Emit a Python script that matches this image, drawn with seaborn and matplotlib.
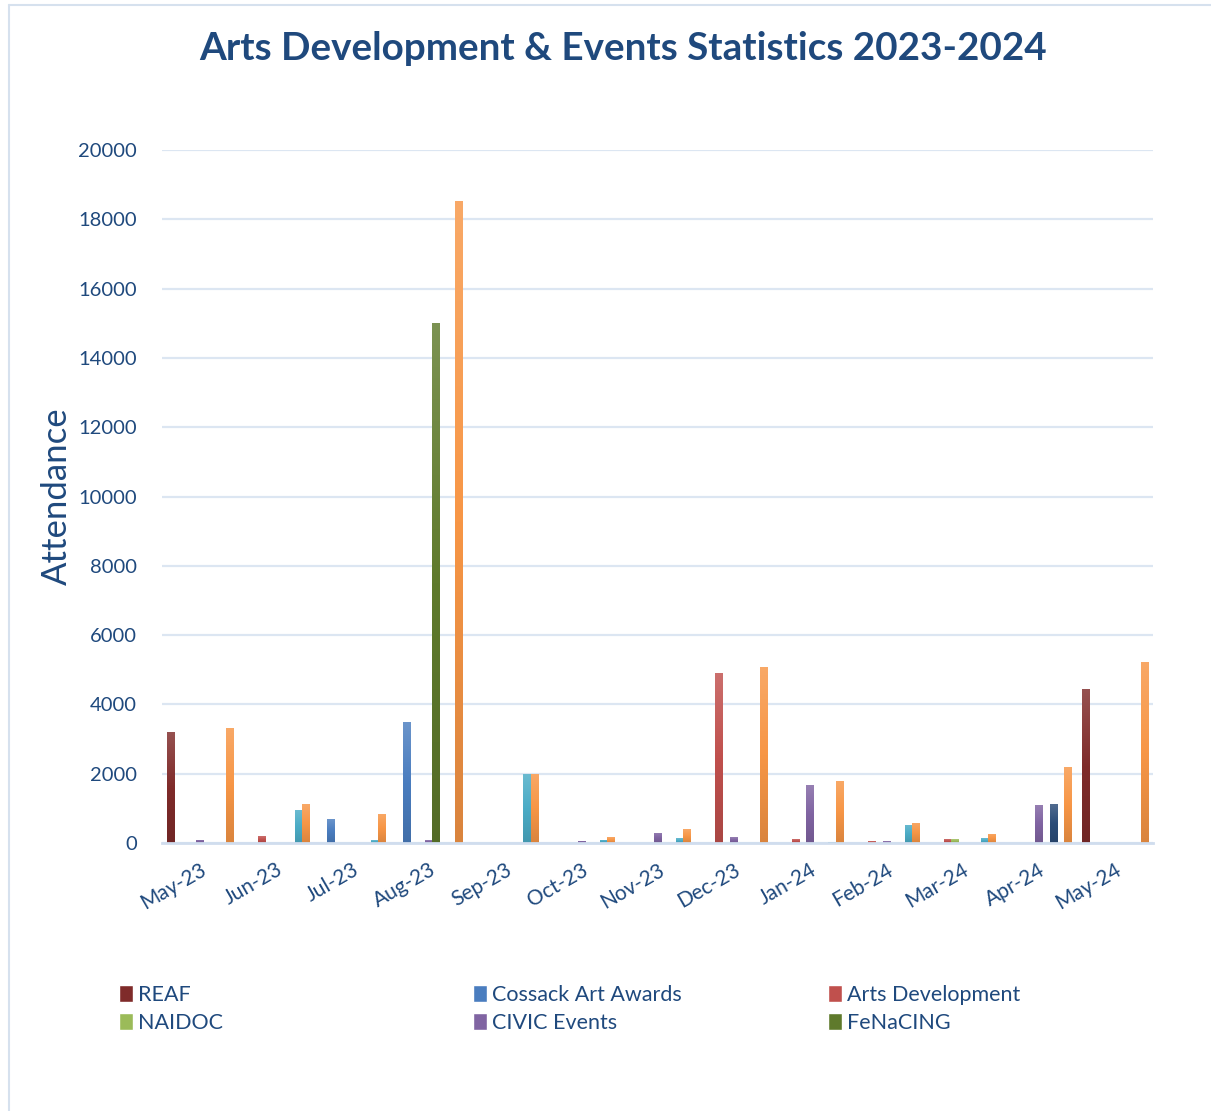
import matplotlib
matplotlib.use('Agg')
import matplotlib.pyplot as plt
import seaborn as sns
import pandas as pd
import numpy as np
from matplotlib.patches import Patch
from matplotlib.lines import Line2D
from matplotlib.colors import LinearSegmentedColormap, to_rgb

# --- data ---
months = ['May-23', 'Jun-23', 'Jul-23', 'Aug-23', 'Sep-23', 'Oct-23', 'Nov-23',
          'Dec-23', 'Jan-24', 'Feb-24', 'Mar-24', 'Apr-24', 'May-24']

reaf = [3200, 0, 0, 0, 0, 0, 0, 0, 0, 0, 0, 0, 4440]
cossack = [0, 0, 690, 3490, 0, 0, 0, 0, 0, 0, 0, 0, 0]
arts_dev = [0, 200, 0, 0, 0, 0, 0, 4900, 115, 50, 115, 0, 0]
naidoc = [0, 0, 0, 0, 0, 0, 0, 0, 0, 0, 115, 0, 0]
civic = [100, 0, 0, 80, 0, 60, 290, 170, 1670, 50, 0, 1100, 0]
fenacing = [0, 0, 0, 15000, 0, 0, 0, 0, 0, 0, 0, 0, 0]
series7 = [0, 0, 0, 0, 0, 0, 0, 0, 0, 0, 0, 1125, 0]
series8 = [0, 950, 80, 0, 2000, 100, 140, 0, 30, 520, 140, 0, 0]
total = [3320, 1125, 840, 18530, 2000, 170, 400, 5080, 1790, 580, 260, 2190, 5220]

series = {
    'REAF': reaf,
    'Cossack Art Awards': cossack,
    'Arts Development': arts_dev,
    'NAIDOC': naidoc,
    'CIVIC Events': civic,
    'FeNaCING': fenacing,
    'Series 7': series7,
    'Series 8': series8,
    'Total': total,
}
colors = ['#7F2B2A', '#4A7DBF', '#C0504D', '#9BBB59', '#8064A2',
          '#5F7A2C', '#2B4C78', '#4BACC6', '#F79646']
legend_names = ['REAF', 'Cossack Art Awards', 'Arts Development',
                'NAIDOC', 'CIVIC Events', 'FeNaCING']

rows = []
for name, vals in series.items():
    for m, v in zip(months, vals):
        rows.append({'Month': m, 'Series': name, 'Attendance': v})
df = pd.DataFrame(rows)

navy = '#1F497D'
grid_col = '#DCE6F2'

sns.set_style('white')
plt.rcParams['font.family'] = ['Lato', 'DejaVu Sans']

fig = plt.figure(figsize=(12.11, 11.11), dpi=100)
ax = fig.add_axes([162 / 1211, 1 - 843 / 1111, (1153 - 162) / 1211, (843 - 150) / 1111])

sns.barplot(data=df, x='Month', y='Attendance', hue='Series', order=months,
            hue_order=list(series.keys()), palette=colors, width=0.87,
            saturation=1, legend=False, ax=ax, errorbar=None)


# gradient fill, lighter at top like the office chart
def shade(c, f):
    r = np.array(to_rgb(c))
    if f > 0:
        return tuple(r + (1 - r) * f)
    return tuple(r * (1 + f))


for patch in list(ax.patches):
    h = patch.get_height()
    if h <= 0:
        continue
    fc = patch.get_facecolor()
    cmap = LinearSegmentedColormap.from_list('g', [shade(fc, -0.12), fc, shade(fc, 0.18)])
    x0, y0 = patch.get_x(), patch.get_y()
    w = patch.get_width()
    grad = np.linspace(0, 1, 256).reshape(-1, 1)
    im = ax.imshow(grad, cmap=cmap, origin='lower', aspect='auto',
                   extent=(x0, x0 + w, y0, y0 + h), zorder=2)
    im.set_clip_path(patch)
    patch.set_facecolor('none')
    patch.set_edgecolor('none')

ax.set_xlim(-0.5, len(months) - 0.5)
ax.set_ylim(0, 20000)
ax.set_yticks(range(0, 20001, 2000))
ax.yaxis.grid(True, color=grid_col, linewidth=1.6)
ax.set_axisbelow(True)

for s in ['left', 'right', 'top']:
    ax.spines[s].set_visible(False)
ax.spines['bottom'].set_color('#D0DDEE')
ax.spines['bottom'].set_linewidth(2)

ax.set_xticks(np.arange(-0.5, len(months), 1.0), minor=True)
ax.tick_params(axis='x', which='minor', length=7, width=2, color='#D0DDEE')
ax.tick_params(axis='x', which='major', length=0, pad=12)
ax.tick_params(axis='y', length=0, pad=18, labelsize=14.5, labelcolor=navy)
ax.set_xticks(range(len(months)))
ax.set_xticklabels(months, rotation=30, ha='right', rotation_mode='anchor',
                   fontsize=15, color=navy)

ax.set_xlabel('')
ax.set_ylabel('Attendance', fontsize=25, color=navy, labelpad=4)

fig.text(623 / 1211, 1 - 49 / 1111, 'Arts Development & Events Statistics 2023-2024',
         ha='center', va='center', fontsize=27.8, fontweight='bold', color=navy)

# legend: three columns of two rows
col_x = [110, 464, 819]
for i, xpix in enumerate(col_x):
    names = [legend_names[i], legend_names[i + 3]]
    handles = [Patch(facecolor=colors[list(series.keys()).index(n)]) for n in names]
    fig.legend(handles, names, loc='upper left',
               bbox_to_anchor=(xpix / 1211, 1 - 976 / 1111), frameon=False,
               fontsize=15.5, labelcolor=navy, handlelength=0.65, handleheight=0.9,
               handletextpad=0.25, labelspacing=0.35, borderaxespad=0)

# outer chart frame
fig.add_artist(Line2D([9 / 1211, 9 / 1211], [0, 1 - 5 / 1111], color='#D6E1EE', linewidth=1.5))
fig.add_artist(Line2D([9 / 1211, 1], [1 - 5 / 1111, 1 - 5 / 1111], color='#D6E1EE', linewidth=1.5))

fig.savefig('out.png', dpi=100)
